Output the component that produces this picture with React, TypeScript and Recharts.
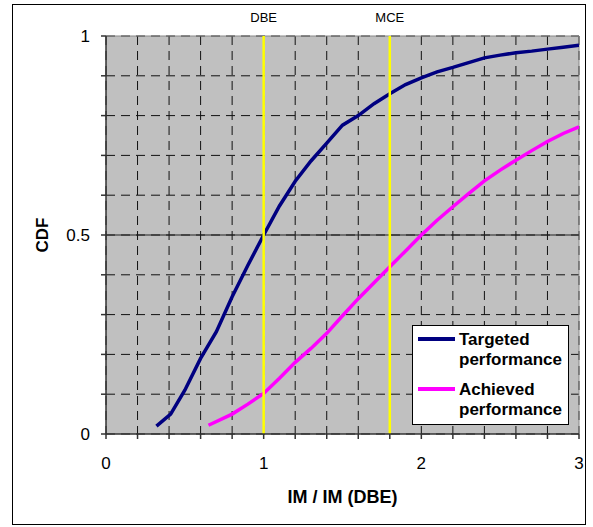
import {
  CartesianGrid,
  Legend,
  Line,
  LineChart,
  ReferenceLine,
  XAxis,
  YAxis,
} from "recharts";

// values
const targetedIM = [0.32, 0.41, 0.5, 0.6, 0.7, 0.8, 0.9, 1.0, 1.1, 1.2, 1.3, 1.4, 1.5, 1.6, 1.7, 1.8, 1.9, 2.0, 2.1, 2.2, 2.3, 2.4, 2.5, 2.6, 2.7, 2.8, 2.9, 3.0];
const targetedCDF = [0.02, 0.05, 0.11, 0.19, 0.257, 0.345, 0.424, 0.5, 0.573, 0.635, 0.686, 0.731, 0.776, 0.8, 0.83, 0.855, 0.878, 0.895, 0.91, 0.921, 0.933, 0.945, 0.952, 0.958, 0.962, 0.967, 0.972, 0.977];

const achievedIM = [0.65, 0.8, 0.9, 1.0, 1.1, 1.2, 1.3, 1.4, 1.5, 1.6, 1.7, 1.8, 1.9, 2.0, 2.1, 2.2, 2.3, 2.4, 2.5, 2.6, 2.7, 2.8, 2.9, 3.0];
const achievedCDF = [0.022, 0.05, 0.075, 0.102, 0.14, 0.18, 0.215, 0.253, 0.297, 0.34, 0.38, 0.42, 0.46, 0.5, 0.537, 0.571, 0.604, 0.636, 0.663, 0.688, 0.712, 0.735, 0.755, 0.772];

const seriesNames = ["Targeted performance", "Achieved performance"];

const xTicks = [0, 0.2, 0.4, 0.6, 0.8, 1, 1.2, 1.4, 1.6, 1.8, 2, 2.2, 2.4, 2.6, 2.8, 3];
const yTicks = [0, 0.1, 0.2, 0.3, 0.4, 0.5, 0.6, 0.7, 0.8, 0.9, 1];
const yLabels = [0, 0.5, 1];

const markers = [
  { x: 1, label: "DBE" },
  { x: 1.8, label: "MCE" },
];

const targeted = targetedIM.map((x, i) => ({ x, y: targetedCDF[i] }));
const achieved = achievedIM.map((x, i) => ({ x, y: achievedCDF[i] }));

const FONT = '"Liberation Sans", Arial, sans-serif';

function LegendBox({ payload }: any) {
  const items = [...(payload || [])].sort(
    (a: any, b: any) => seriesNames.indexOf(a.value) - seriesNames.indexOf(b.value)
  );
  return (
    <div
      style={{
        background: "#fff",
        border: "1px solid #000",
        padding: "4px 6px 4px 5px",
        fontFamily: FONT,
        fontWeight: "bold",
        fontSize: 17,
        lineHeight: "20px",
        color: "#000",
      }}
    >
      {items.map((p: any, i: number) => (
        <div key={i} style={{ display: "flex", marginTop: i === 0 ? 0 : 10 }}>
          <svg width={37} height={20} style={{ flex: "none" }}>
            <line x1={0} x2={37} y1={9} y2={9} stroke={p.color} strokeWidth={4} />
          </svg>
          <div style={{ marginLeft: 4 }}>
            {String(p.value)
              .split(" ")
              .map((w: string, j: number) => (
                <div key={j}>{w}</div>
              ))}
          </div>
        </div>
      ))}
    </div>
  );
}

export default function App() {
  return (
    <div style={{ position: "absolute", left: 0, top: 0, width: 593, height: 527, fontFamily: FONT }}>
      <div
        style={{
          position: "absolute",
          left: 12,
          top: 4,
          width: 574,
          height: 521,
          boxSizing: "border-box",
          border: "1px solid #000",
          pointerEvents: "none",
        }}
      />
      <LineChart width={593} height={527} margin={{ top: 36, right: 14, bottom: 0, left: 0 }}>
        <CartesianGrid
          fill="#C0C0C0"
          stroke="#111"
          strokeDasharray="9 6"
          horizontalValues={yTicks}
          verticalValues={xTicks}
        />
        <XAxis
          type="number"
          dataKey="x"
          domain={[0, 3]}
          ticks={xTicks}
          allowDataOverflow
          height={93}
          tickSize={5}
          tickMargin={18}
          stroke="#333"
          strokeWidth={1.5}
          tick={{ fill: "#000", fontSize: 17, fontFamily: FONT }}
          tickFormatter={(v: number) => (Number.isInteger(v) ? String(v) : "")}
          label={{
            value: "IM / IM (DBE)",
            position: "insideBottom",
            offset: 24,
            fill: "#000",
            fontSize: 18,
            fontWeight: "bold",
            fontFamily: FONT,
          }}
        />
        <YAxis
          type="number"
          domain={[0, 1]}
          ticks={yTicks}
          width={106}
          tickSize={5}
          tickMargin={11}
          stroke="#333"
          strokeWidth={1.5}
          tick={{ fill: "#000", fontSize: 17, fontFamily: FONT }}
          tickFormatter={(v: number) => (yLabels.includes(v) ? String(v) : "")}
          label={{
            value: "CDF",
            angle: -90,
            position: "insideLeft",
            offset: 42,
            fill: "#000",
            fontSize: 17,
            fontWeight: "bold",
            fontFamily: FONT,
            style: { textAnchor: "middle" },
          }}
        />
        <ReferenceLine y={1} stroke="#888" strokeWidth={1} />
        <ReferenceLine x={3} stroke="#888" strokeWidth={1} />
        <ReferenceLine y={0.5} stroke="#222" strokeWidth={1} />
        <Legend
          verticalAlign="middle"
          align="center"
          layout="vertical"
          content={<LegendBox />}
          wrapperStyle={{ position: "absolute", left: 412, top: 325, width: "auto" }}
        />
        <Line
          data={targeted}
          dataKey="y"
          name={seriesNames[0]}
          type="linear"
          stroke="#000080"
          strokeWidth={3.5}
          dot={false}
          activeDot={false}
          isAnimationActive={false}
        />
        <Line
          data={achieved}
          dataKey="y"
          name={seriesNames[1]}
          type="linear"
          stroke="#FF00FF"
          strokeWidth={3.5}
          dot={false}
          activeDot={false}
          isAnimationActive={false}
        />
        {markers.map((m) => (
          <ReferenceLine
            key={m.label}
            x={m.x}
            stroke="#FFFF00"
            strokeWidth={2.5}
            label={{ value: m.label, position: "top", offset: 14, fill: "#000", fontSize: 13, fontFamily: FONT }}
          />
        ))}
      </LineChart>
    </div>
  );
}
